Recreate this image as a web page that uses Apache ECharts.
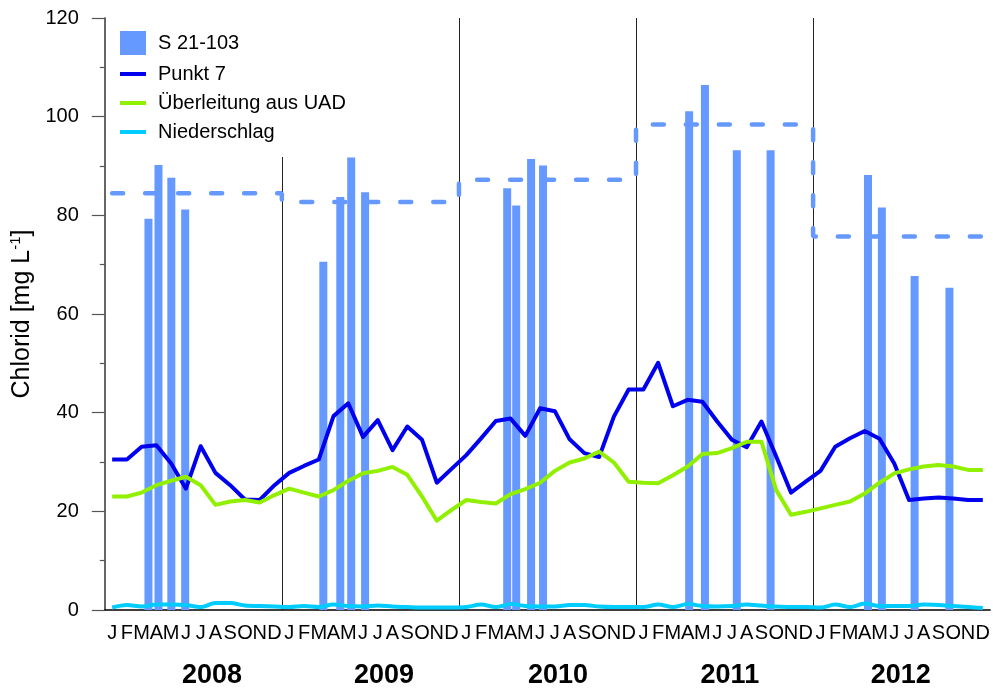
<!DOCTYPE html>
<html>
<head>
<meta charset="utf-8">
<script src="https://cdn.jsdelivr.net/npm/echarts@6/dist/echarts.min.js"></script>
<style>html,body{margin:0;padding:0;background:#fff}#c{width:993px;height:689px}</style>
</head>
<body>
<div id="c"></div>
<script>
// ---- data ----
const monthLetters = ['J','F','M','A','M','J','J','A','S','O','N','D'];
const years = ['2008','2009','2010','2011','2012'];
// sampling dates of S 21-103 in months since Jan 2008
const s21Month = [2.96, 3.64, 4.51, 5.45, 14.81, 15.96, 16.70, 17.64, 27.27, 27.88, 28.89, 29.70, 39.60, 40.67, 42.83, 45.12, 51.72, 52.66, 54.88, 57.24];
const s21Values = [79.3, 90.2, 87.6, 81.2, 70.6, 83.7, 91.7, 84.7, 85.5, 82.0, 91.4, 90.1, 101.1, 106.4, 93.2, 93.2, 88.2, 81.6, 67.7, 65.3];
const s21AnnualMean = [84.5, 82.7, 87.2, 98.4, 75.7];
const punkt7 = [
  30.5, 30.5, 33.1, 33.4, 29.7, 24.6, 33.2, 27.8, 25.3, 22.4, 22.3, 25.3,
  27.8, 29.2, 30.5, 39.3, 41.9, 35.1, 38.5, 32.4, 37.2, 34.5, 25.8, 28.6,
  31.4, 34.8, 38.3, 38.8, 35.3, 40.9, 40.3, 34.6, 31.8, 31.0, 39.2, 44.7,
  44.7, 50.1, 41.3, 42.6, 42.2, 38.2, 34.5, 33.0, 38.2, 31.1, 23.8, 26.0,
  28.2, 33.1, 34.8, 36.3, 34.7, 29.7, 22.3, 22.6, 22.8, 22.6, 22.3, 22.3
];
const uad = [
  23.0, 23.0, 23.8, 25.3, 26.2, 27.0, 25.3, 21.3, 22.0, 22.3, 21.8, 23.3,
  24.6, 23.8, 23.0, 24.3, 26.2, 27.7, 28.2, 29.0, 27.4, 23.0, 18.1, 20.3,
  22.3, 21.9, 21.6, 23.5, 24.5, 25.8, 28.2, 29.9, 30.7, 32.1, 29.9, 26.0,
  25.8, 25.7, 27.3, 29.1, 31.6, 31.8, 32.8, 34.1, 34.1, 24.3, 19.3, 19.9,
  20.6, 21.3, 22.0, 23.6, 25.8, 27.7, 28.5, 29.1, 29.4, 29.1, 28.4, 28.4
];
const niederschlag = [
  0.5, 1.0, 0.7, 1.1, 1.1, 1.0, 0.6, 1.4, 1.4, 0.9, 0.8, 0.7,
  0.6, 0.8, 0.6, 1.1, 0.8, 0.7, 0.9, 0.7, 0.6, 0.5, 0.5, 0.5,
  0.6, 1.1, 0.6, 1.2, 0.8, 0.7, 0.7, 1.0, 1.0, 0.7, 0.6, 0.6,
  0.6, 1.1, 0.6, 1.2, 0.8, 0.7, 0.8, 1.1, 0.9, 0.7, 0.6, 0.6,
  0.5, 1.1, 0.6, 1.3, 0.8, 0.8, 0.8, 1.1, 1.0, 0.8, 0.6, 0.4
];
const yTicks = [0, 20, 40, 60, 80, 100, 120];

// ---- layout helpers (positions in month units on the time axis) ----
const yearLabelPos = [7.27, 18.92, 30.71, 42.36, 53.94];
const nMonths = 60;
const monthCenters = punkt7.map((_, i) => i + 0.5);
const monthly = arr => arr.map((v, i) => [i + 0.5, v]);
const meanStep = [];
s21AnnualMean.forEach((v, k) => {
  meanStep.push([k === 0 ? 0.5 : k * 12, v]);
  meanStep.push([k === years.length - 1 ? nMonths - 0.5 : (k + 1) * 12, v]);
});

const FONT = 'Liberation Sans, Arial, sans-serif';
const LINE_ICON = 'path://M0,0 L26,0 L26,4 L0,4 Z';
const chart = echarts.init(document.getElementById('c'), null, {renderer: 'canvas'});
chart.setOption({
  animation: false,
  backgroundColor: '#fff',
  grid: {left: 102, right: 2, top: 18, bottom: 79},
  legend: {
    orient: 'vertical',
    left: 108, top: 15,
    padding: [16, 14, 15, 12],
    backgroundColor: '#fff',
    itemWidth: 26, itemHeight: 24, itemGap: 9,
    z: 10,
    textStyle: {fontFamily: FONT, fontSize: 20, color: '#000', padding: [0, 0, 0, 7]},
    data: [
      {name: 'S 21-103', icon: 'rect'},
      {name: 'Punkt 7', icon: LINE_ICON},
      {name: 'Überleitung aus UAD', icon: LINE_ICON},
      {name: 'Niederschlag', icon: LINE_ICON}
    ]
  },
  xAxis: [{
    type: 'value', min: 0, max: nMonths,
    axisLine: {show: true, onZero: false, lineStyle: {color: '#000', width: 1.5}},
    axisTick: {show: false},
    splitLine: {show: false},
    axisLabel: {
      customValues: monthCenters,
      formatter: v => monthLetters[Math.floor(v) % 12],
      fontFamily: FONT,
      fontSize: 20, color: '#000', margin: 13
    }
  }, {
    type: 'value', min: 0, max: nMonths, position: 'bottom',
    axisLine: {show: false}, axisTick: {show: false}, splitLine: {show: false},
    axisLabel: {
      customValues: yearLabelPos,
      formatter: v => years[yearLabelPos.indexOf(v)],
      fontFamily: FONT, fontWeight: 'bold', fontSize: 27, color: '#000', margin: 52
    }
  }],
  yAxis: [{
    type: 'value', min: yTicks[0], max: yTicks[yTicks.length - 1], interval: 20,
    name: '{a|Chlorid [mg L}{s|-1}{a|]}',
    nameLocation: 'middle', nameGap: 67, nameRotate: 90,
    nameTextStyle: {
      fontFamily: FONT, fontSize: 25, color: '#000',
      rich: {
        a: {fontFamily: FONT, fontSize: 25, color: '#000', lineHeight: 28},
        s: {fontFamily: FONT, fontSize: 15, color: '#000', verticalAlign: 'top', lineHeight: 28, padding: [0, 0, 10, 0]}
      }
    },
    axisLine: {show: true, lineStyle: {color: '#333', width: 1.5}},
    axisTick: {show: true, length: 13, lineStyle: {color: '#555', width: 1.2}},
    minorTick: {show: true, splitNumber: 2, length: 5, lineStyle: {color: '#555', width: 1.2}},
    splitLine: {show: false},
    axisLabel: {fontFamily: FONT, fontSize: 20, color: '#000', margin: 26}
  }, {
    type: 'value', min: 0, max: 120, position: 'right',
    axisLine: {show: true, lineStyle: {color: '#666', width: 1}},
    axisTick: {show: false}, axisLabel: {show: false}, splitLine: {show: false}
  }],
  series: [{
    name: 'S 21-103', type: 'bar', barWidth: 8,
    itemStyle: {color: '#6699ff'},
    data: s21Month.map((m, i) => [m, s21Values[i]]),
    markLine: {
      silent: true, symbol: 'none', label: {show: false}, z: 1,
      lineStyle: {color: '#222', width: 1, type: 'solid'},
      data: [{xAxis: 12}, {xAxis: 24}, {xAxis: 36}, {xAxis: 48}]
    },
    z: 1
  }, {
    name: 'S 21-103 mean', type: 'line', symbol: 'none',
    data: meanStep,
    lineStyle: {color: '#6699ff', width: 4.5, type: [11, 22], cap: 'round'},
    z: 3
  }, {
    name: 'Punkt 7', type: 'line', symbol: 'none',
    data: monthly(punkt7),
    itemStyle: {color: '#0000ee'},
    lineStyle: {color: '#0000ee', width: 4, join: 'round'},
    z: 4
  }, {
    name: 'Überleitung aus UAD', type: 'line', symbol: 'none',
    data: monthly(uad),
    itemStyle: {color: '#91f000'},
    lineStyle: {color: '#91f000', width: 4, join: 'round'},
    z: 4
  }, {
    name: 'Niederschlag', type: 'line', symbol: 'none', smooth: 0.3,
    data: monthly(niederschlag),
    itemStyle: {color: '#00ccff'},
    lineStyle: {color: '#00ccff', width: 4},
    z: 4
  }]
});
</script>
</body>
</html>
